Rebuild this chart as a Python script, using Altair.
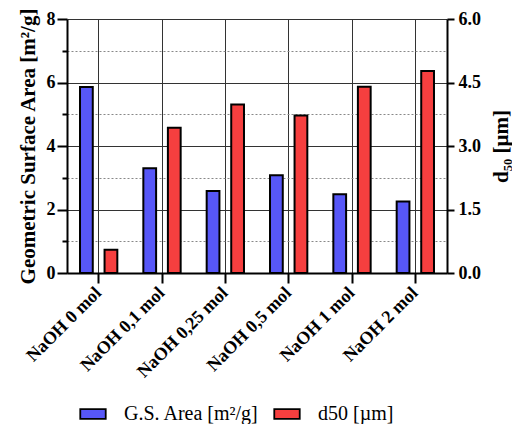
import altair as alt
import pandas as pd

categories = ["NaOH 0 mol", "NaOH 0,1 mol", "NaOH 0,25 mol", "NaOH 0,5 mol", "NaOH 1 mol", "NaOH 2 mol"]
gs_area = [5.86, 3.30, 2.58, 3.08, 2.48, 2.25]
d50 = [0.55, 3.43, 3.98, 3.72, 4.40, 4.77]
series_names = ["G.S. Area [m²/g]", "d50 [µm]"]
left_ticks = [0, 1, 2, 3, 4, 5, 6, 7, 8]
right_ticks = [0.0, 1.5, 3.0, 4.5, 6.0]

rows = []
for c, a, d in zip(categories, gs_area, d50):
    rows.append({"cat": c, "series": series_names[0], "value": a})
    rows.append({"cat": c, "series": series_names[1], "value": d})
df = pd.DataFrame(rows)

FONT = "Liberation Serif"

x_enc = alt.X("cat:N", sort=categories, title=None,
              scale=alt.Scale(paddingInner=0, paddingOuter=0),
              axis=alt.Axis(labelAngle=-45, labelFont=FONT, labelFontWeight="bold",
                            labelFontSize=18, labelColor="black", labelAlign="right",
                            labelBaseline="middle", labelPadding=7,
                            grid=True, gridColor="#333", gridWidth=1, bandPosition=0.5,
                            domain=True, domainColor="black", domainWidth=2,
                            ticks=True, tickColor="black", tickWidth=2, tickSize=10))
xoff = alt.XOffset("series:N", sort=series_names,
                   scale=alt.Scale(paddingInner=0.48, paddingOuter=0.53))
color = alt.Color("series:N", sort=series_names,
                  scale=alt.Scale(domain=series_names, range=["#5757F7", "#F63F3F"]),
                  legend=alt.Legend(orient="none", legendX=16, legendY=385,
                                    direction="horizontal", title=None, padding=0,
                                    labelFont=FONT, labelFontSize=20, labelColor="black",
                                    symbolType="M-1.8,-0.7H1.8V0.7H-1.8Z", symbolSize=200,
                                    symbolStrokeColor="black", symbolStrokeWidth=1.8,
                                    symbolOpacity=1, columnPadding=11, labelOffset=21))

odd = "datum.value % 2 === 1"
left = alt.Chart(df).transform_filter(
    alt.datum.series == series_names[0]
).mark_bar(stroke="black", strokeWidth=2).encode(
    x=x_enc, xOffset=xoff, color=color,
    y=alt.Y("value:Q", title="Geometric Surface Area [m²/g]",
            scale=alt.Scale(domain=[0, 8], nice=False),
            axis=alt.Axis(values=left_ticks, orient="left",
                          labelExpr="datum.value % 2 === 0 ? datum.label : ''",
                          labelFont=FONT, labelFontWeight="bold", labelFontSize=18, labelColor="black",
                          labelPadding=2,
                          titleFont=FONT, titleFontWeight="bold", titleFontSize=21, titleColor="black",
                          titlePadding=8,
                          grid=True,
                          gridColor={"condition": {"test": odd, "value": "#888"}, "value": "#333"},
                          gridDash={"condition": {"test": odd, "value": [2, 2]}, "value": []},
                          gridWidth=1,
                          domainColor="black", domainWidth=2,
                          tickColor="black", tickWidth=2,
                          tickSize={"condition": {"test": odd, "value": 5}, "value": 10})),
)

right = alt.Chart(df).transform_filter(
    alt.datum.series == series_names[1]
).mark_bar(stroke="black", strokeWidth=2).encode(
    x=x_enc, xOffset=xoff, color=color,
    y=alt.Y("value:Q", title="d₅₀ [µm]",
            scale=alt.Scale(domain=[0, 6], nice=False),
            axis=alt.Axis(values=right_ticks, orient="right", format=".1f", grid=False,
                          labelFont=FONT, labelFontWeight="bold", labelFontSize=18, labelColor="black",
                          labelPadding=4,
                          titleFont=FONT, titleFontWeight="bold", titleFontSize=21, titleColor="black",
                          titleAngle=270, titlePadding=31,
                          domainColor="black", domainWidth=2,
                          tickColor="black", tickWidth=2, tickSize=7)),
)

chart = alt.layer(left, right).resolve_scale(y="independent").properties(
    width=380, height=254,
    autosize=alt.AutoSizeParams(type="none"),
    padding={"left": 59, "right": 65, "top": 11, "bottom": 151}
).configure_view(stroke="black", strokeWidth=2).configure(background="white")

chart.save("out.html", embed_options={"renderer": "svg", "actions": False})
